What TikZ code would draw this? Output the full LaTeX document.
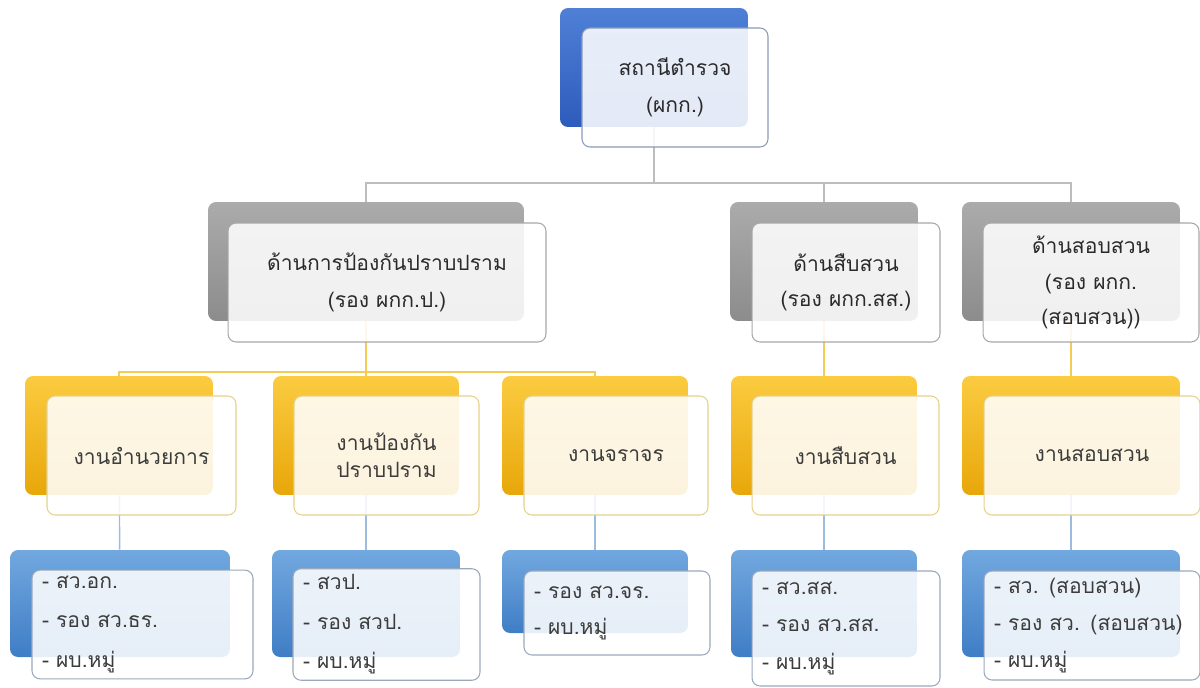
\documentclass[tikz,border=0pt]{standalone}
\usepackage{fontspec}
\newfontfamily\thaifont[Script=Thai]{Loma}
\usetikzlibrary{backgrounds}

\definecolor{txt}{HTML}{3C3C3C}
\definecolor{dtxt}{HTML}{2A2A2A}
\definecolor{topA}{HTML}{4F80D6}
\definecolor{topB}{HTML}{2D5CBC}
\definecolor{grayA}{HTML}{ABABAB}
\definecolor{grayB}{HTML}{8C8C8C}
\definecolor{yelA}{HTML}{FBCB40}
\definecolor{yelB}{HTML}{E8A70A}
\definecolor{bluA}{HTML}{72A8E0}
\definecolor{bluB}{HTML}{3F7DC5}
\definecolor{lgray}{HTML}{BDBDBD}
\definecolor{lyel}{HTML}{F2CC55}
\definecolor{lblue}{HTML}{9DBBDF}
\definecolor{topedge}{HTML}{8A9BBA}
\definecolor{grayedge}{HTML}{A8A8A8}
\definecolor{yeledge}{HTML}{E4D28C}
\definecolor{bluedge}{HTML}{9AA8BC}

\tikzset{
  wh/.style 2 args={minimum width=#1cm, minimum height=#2cm},
  back/.style={rounded corners=0.16cm, draw=none},
  topback/.style={back, top color=topA, bottom color=topB},
  grayback/.style={back, top color=grayA, bottom color=grayB},
  yelback/.style={back, top color=yelA, bottom color=yelB},
  bluback/.style={back, top color=bluA, bottom color=bluB},
  front/.style={rounded corners=0.16cm, fill=white, fill opacity=0.87,
    text opacity=1, text=txt, line width=0.6pt, align=center,
    font=\thaifont\fontsize{12}{21}\selectfont},
  topfront/.style={front, draw=topedge, text=dtxt},
  grayfront/.style={front, draw=grayedge, text=dtxt},
  yelfront/.style={front, draw=yeledge},
  blufront/.style={front, draw=bluedge, align=left,
    inner xsep=0.2cm, text width=#1cm},
  grayline/.style={draw=lgray, line width=0.8pt},
  yelline/.style={draw=lyel, line width=0.8pt},
  bluline/.style={draw=lblue, line width=0.8pt}
}

\begin{document}
\begin{tikzpicture}[x=0.02cm, y=-0.02cm]
    \useasboundingbox (0,0) rectangle (1200,687);

    % top level
    \node[topback, wh={3.76}{2.38}] (sb) at (654,67.5) {};
    \node[topfront, wh={3.72}{2.38}] (s) at (675,87.5) {สถานีตำรวจ\\(ผกก.)};

    % deputies
    \node[grayback, wh={6.32}{2.38}] (pb) at (366,261.5) {};
    \node[grayfront, wh={6.36}{2.38}] (p) at (387,282.5) {ด้านการป้องกันปราบปราม\\(รอง ผกก.ป.)};
    \node[grayback, wh={3.76}{2.38}] (ib) at (824,261.5) {};
    \node[grayfront, wh={3.76}{2.38}, font=\thaifont\fontsize{12}{20}\selectfont] (i) at (846,282.5) {ด้านสืบสวน\\(รอง ผกก.สส.)};
    \node[grayback, wh={4.36}{2.38}] (qb) at (1071,261.5) {};
    \node[grayfront, wh={4.32}{2.38}, font=\thaifont\fontsize{12}{20}\selectfont] (q) at (1091,282.5) {ด้านสอบสวน\\(รอง ผกก.\\(สอบสวน))};

    % work units
    \node[yelback, wh={3.76}{2.38}] (ab) at (119,435.5) {};
    \node[yelfront, wh={3.78}{2.38}] (a) at (141.5,455.5) {งานอำนวยการ};
    \node[yelback, wh={3.72}{2.38}] (cb) at (366,435.5) {};
    \node[yelfront, wh={3.70}{2.38}, font=\thaifont\fontsize{12}{15.5}\selectfont] (c) at (386.5,455.5) {งานป้องกัน\\ปราบปราม};
    \node[yelback, wh={3.72}{2.38}] (tb) at (595,435.5) {};
    \node[yelfront, wh={3.68}{2.38}] (t) at (616,455.5) {งานจราจร};
    \node[yelback, wh={3.72}{2.38}] (db) at (824,435.5) {};
    \node[yelfront, wh={3.74}{2.38}] (d) at (845.5,455.5) {งานสืบสวน};
    \node[yelback, wh={4.36}{2.38}] (eb) at (1071,435.5) {};
    \node[yelfront, wh={4.32}{2.38}] (e) at (1092,455.5) {งานสอบสวน};

    % staff
    \node[bluback, wh={4.40}{2.14}] (a2b) at (120,603.5) {};
    \node[blufront=4.02, wh={4.42}{2.14}, font=\thaifont\fontsize{12}{22.5}\selectfont] (a2) at (142.5,624.5) {- สว.อก.\\- รอง สว.ธร.\\- ผบ.หมู่};
    \node[bluback, wh={3.76}{2.14}] (c2b) at (366,603.5) {};
    \node[blufront=3.34, wh={3.74}{2.14}, font=\thaifont\fontsize{12}{22.5}\selectfont] (c2) at (386.5,624.5) {- สวป.\\- รอง สวป.\\- ผบ.หมู่};
    \node[bluback, wh={3.72}{1.66}] (t2b) at (595,591.5) {};
    \node[blufront=3.32, wh={3.72}{1.68}, font=\thaifont\fontsize{12}{20.5}\selectfont] (t2) at (617,613) {- รอง สว.จร.\\- ผบ.หมู่};
    \node[bluback, wh={3.72}{2.14}] (d2b) at (824,603.5) {};
    \node[blufront=3.36, wh={3.76}{2.30}, font=\thaifont\fontsize{12}{21.5}\selectfont] (d2) at (846,628.5) {- สว.สส.\\- รอง สว.สส.\\- ผบ.หมู่};
    \node[bluback, wh={4.36}{2.14}] (e2b) at (1071,603.5) {};
    \node[blufront=3.92, wh={4.32}{2.18}, font=\thaifont\fontsize{12}{21}\selectfont] (e2) at (1092,625.5) {- สว. (สอบสวน)\\- รอง สว. (สอบสวน)\\- ผบ.หมู่};

    \coordinate (h1) at (654,183);
    \coordinate (h2) at (366,372);

    \begin{scope}[on background layer]
    \draw[grayline] (sb) -- (h1);
    \draw[grayline] (h1) -| (pb);
    \draw[grayline] (h1) -| (ib);
    \draw[grayline] (h1) -| (qb);
    \draw[yelline] (pb) -- (h2);
    \draw[yelline] (h2) -| (ab);
    \draw[yelline] (h2) -- (cb);
    \draw[yelline] (h2) -| (tb);
    \draw[yelline] (ib) -- (db);
    \draw[yelline] (qb) -- (eb);
    \draw[bluline] (ab) -- (a2b);
    \draw[bluline] (cb) -- (c2b);
    \draw[bluline] (tb) -- (t2b);
    \draw[bluline] (db) -- (d2b);
    \draw[bluline] (eb) -- (e2b);
    \end{scope}
\end{tikzpicture}
\end{document}
